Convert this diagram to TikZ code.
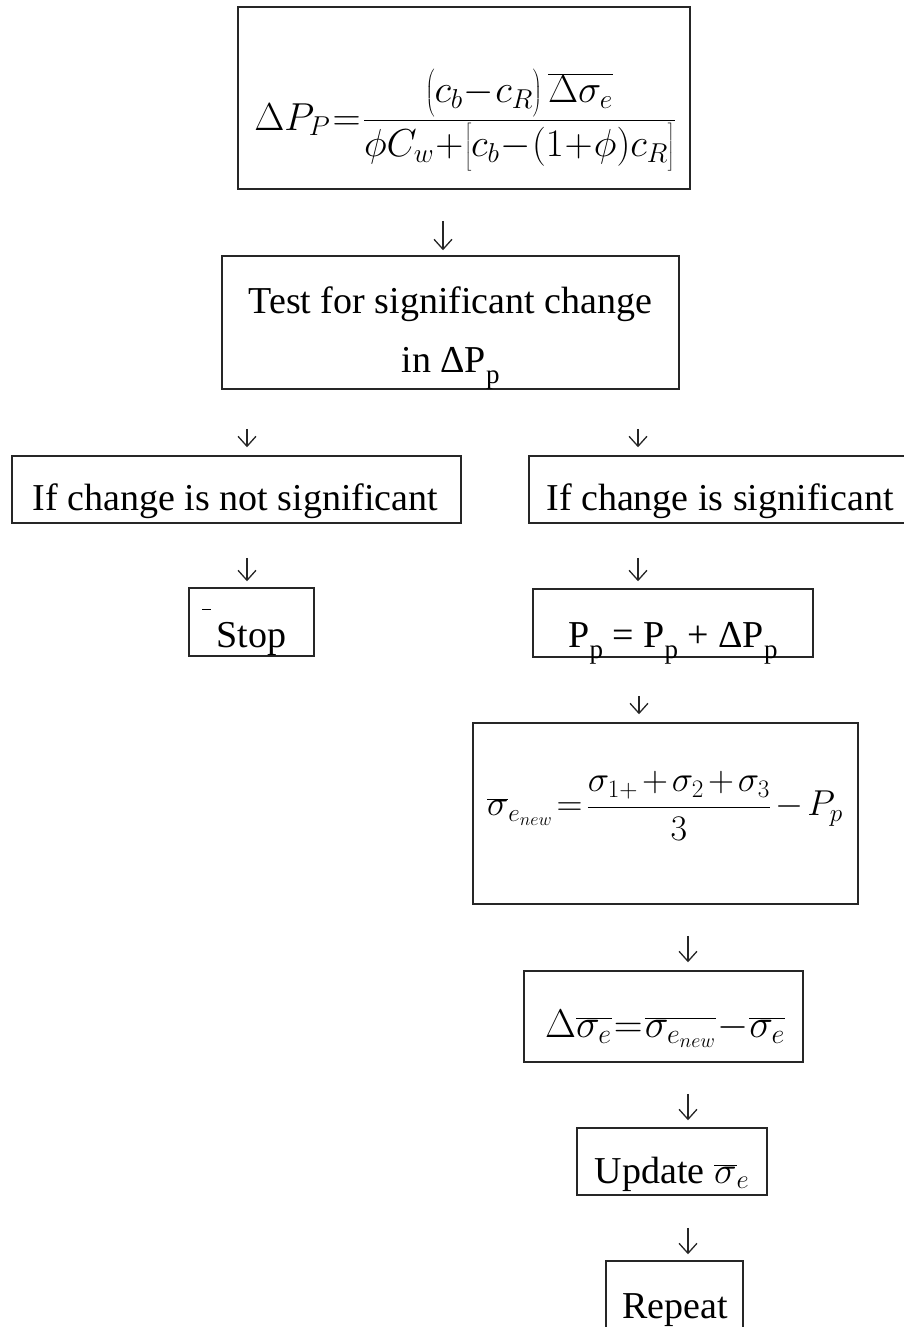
\RequirePackage{fix-cm}
\documentclass[tikz,border=0pt]{standalone}
\usepackage{fontspec}
\setmainfont{Liberation Serif}
\usetikzlibrary{arrows.meta,positioning,calc}
\newcommand{\psub}{\raisebox{-0.3em}{\fontsize{27}{27}\selectfont p}}
\newcommand{\tightmath}{\thickmuskip=1mu \medmuskip=0.5mu}
\newcommand{\tallstrut}{\rule[-0.42em]{0pt}{1.2em}}

\begin{document}
\begin{tikzpicture}[x=1pt, y=-1pt,
    stepbox/.style={draw=black!85, line width=1.5pt, inner sep=0pt},
    txt/.style={inner sep=0pt, anchor=base, font=\fontsize{38}{46}\selectfont},
    flow/.style={-{Straight Barb[length=10pt,width=18pt,line width=1.3pt]}, line width=1.3pt, black!85}]
  \useasboundingbox (0,0) rectangle (904,1327);

  % boxes
  \node[stepbox, minimum width=452, minimum height=182] (fbox) at (464,98) {};
  \node[stepbox, minimum width=457, minimum height=133] (test) at (450.5,322.5) {};
  \node[stepbox, minimum width=449, minimum height=67] (nsig) at (236.5,489.5) {};
  \node[stepbox, minimum width=376, minimum height=67] (sig) at (717,489.5) {};
  \node[stepbox, minimum width=125, minimum height=68] (stop) at (251.5,622) {};
  \node[stepbox, minimum width=280, minimum height=68] (pp) at (673,623) {};
  \node[stepbox, minimum width=385, minimum height=181] (snew) at (665.5,813.5) {};
  \node[stepbox, minimum width=279, minimum height=91] (dsig) at (663.5,1016.5) {};
  \node[stepbox, minimum width=190, minimum height=67] (upd) at (672,1161.5) {};
  \node[stepbox, minimum width=137, minimum height=90] (rep) at (674.5,1306) {};

  % texts
  \node[inner sep=0pt, font=\fontsize{39}{44}\selectfont] (fml) at (465,121)
    {$\tightmath\displaystyle \Delta P_P=\frac{\left(c_b-c_R\tallstrut\right)\overline{\Delta\sigma_e}}{\phi C_w+\left[c_b-(1+\phi)c_R\tallstrut\right]}$};
  \node[txt] (tst1) at (450.5,313) {Test for significant change};
  \node[txt] (tst2) at (450.5,372) {in ΔP\psub};
  \node[txt] (nsigt) at (235.5,510) {If change is not significant};
  \node[txt] (sigt) at (720,510) {If change is significant};
  \node[txt] (stopt) at (251.5,647) {Stop};
  \draw[line width=1pt] (202,609) -- (211,609);
  \node[txt] (ppt) at (673,647) {P\psub{} = P\psub{} + ΔP\psub};
  \node[inner sep=0pt, font=\fontsize{36}{40}\selectfont] (snewt) at (665,806)
    {$\thickmuskip=2mu \medmuskip=2mu\displaystyle \overline{\sigma}_{e_{new}}=\frac{\sigma_{1+}+\sigma_2+\sigma_3}{3}-P_p$};
  \node[txt, font=\fontsize{40}{44}\selectfont] (dsigt) at (665,1037)
    {$\tightmath\Delta\overline{\sigma_e}=\overline{\sigma_{e_{new}}}-\overline{\sigma_e}$};
  \node[txt] (updt) at (672,1183) {Update $\overline{\sigma}_e$};
  \node[txt] (rept) at (675,1318) {Repeat};

  % arrows
  \foreach \from/\to/\x/\s/\t in {fbox/test/443/31/5, test/nsig/247/39/8, test/sig/638/39/8,
      nsig/stop/247/34/6, sig/pp/638/34/7, pp/snew/639/38/8, snew/dsig/688/31/8,
      dsig/upd/688/31/7, upd/rep/688/32/6}{
    \coordinate (k) at (\x,0);
    \draw[flow, shorten <=\s pt, shorten >=\t pt] (\from.south -| k) -- (\to.north -| k);
  }
\end{tikzpicture}
\end{document}
